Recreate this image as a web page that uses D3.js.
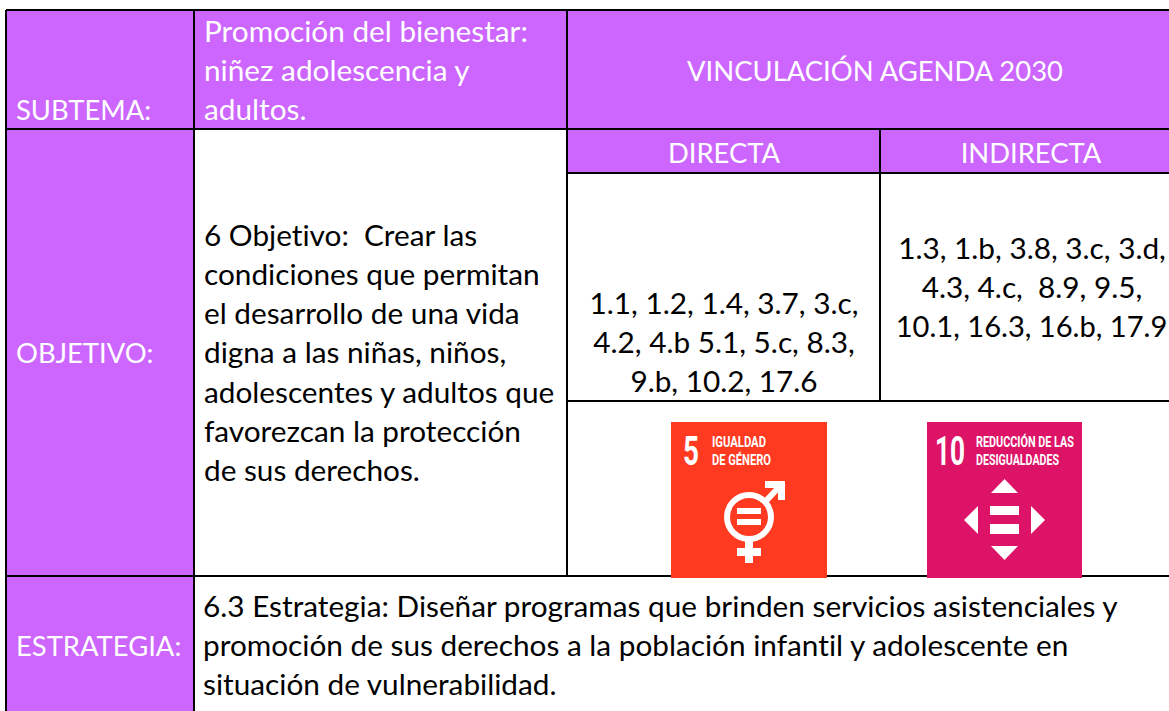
<!DOCTYPE html>
<html><head><meta charset="utf-8">
<script src="https://cdn.jsdelivr.net/npm/d3@7/dist/d3.min.js"></script>
<style>html,body{margin:0;padding:0;background:#fff}svg{display:block}text.t{font-family:Lato,Carlito,sans-serif;white-space:pre;font-variant-ligatures:none}text.i{font-family:Roboto,sans-serif;font-weight:700}</style>
</head><body><svg id="c" width="1169" height="711"></svg>
<script>
const PURPLE="#cc66ff", WHITE="#ffffff", INK="#000000";
// [text, x, baseline, anchor, colour]
const capsTexts=[
 ["SUBTEMA:",16,120,"start",WHITE],
 ["OBJETIVO:",16,363,"start",WHITE],
 ["ESTRATEGIA:",16,656,"start",WHITE],
 ["VINCULACIÓN AGENDA 2030",875,81,"middle",WHITE],
 ["DIRECTA",724,163,"middle",WHITE],
 ["INDIRECTA",1031,163,"middle",WHITE]
];
const bodyTexts=[
 ["Promoción del bienestar:",204,42,"start",WHITE],
 ["niñez adolescencia y",204,81,"start",WHITE],
 ["adultos.",204,120,"start",WHITE],
 ["6 Objetivo:  Crear las",204,246,"start",INK],
 ["condiciones que permitan",204,285,"start",INK],
 ["el desarrollo de una vida",204,324,"start",INK],
 ["digna a las niñas, niños,",204,363,"start",INK],
 ["adolescentes y adultos que",204,403,"start",INK],
 ["favorezcan la protección",204,442,"start",INK],
 ["de sus derechos.",204,481,"start",INK],
 ["1.1, 1.2, 1.4, 3.7, 3.c,",724,314,"middle",INK],
 ["4.2, 4.b 5.1, 5.c, 8.3,",724,353,"middle",INK],
 ["9.b, 10.2, 17.6",724,392,"middle",INK],
 ["1.3, 1.b, 3.8, 3.c, 3.d,",1032,259,"middle",INK],
 ["4.3, 4.c,  8.9, 9.5,",1032,298,"middle",INK],
 ["6.3 Estrategia: Diseñar programas que brinden servicios asistenciales y",203,617,"start",INK],
 ["promoción de sus derechos a la población infantil y adolescente en",203,656,"start",INK],
 ["situación de vulnerabilidad.",203,695,"start",INK]
];
const tightTexts=[["10.1, 16.3, 16.b, 17.9",1031.500,337,"middle",INK]];
// [x, y, w, h]
const fillRects=[[6,10,188,701],[194,10,975,119],[567,129,602,44]];
// [x1,y1,x2,y2]
const ruleLines=[
 [6,10,1169,10],[6,129,1169,129],[567,173,1169,173],[567,401,1169,401],[6,576,1169,576],
 [6,10,6,711],[194,10,194,711],[567,10,567,576],[880,129,880,401]
];
const svg=d3.select("#c");
svg.selectAll("rect.f").data(fillRects).join("rect").attr("class","f")
 .attr("x",d=>d[0]).attr("y",d=>d[1]).attr("width",d=>d[2]).attr("height",d=>d[3]).attr("fill",PURPLE);
svg.selectAll("line.r").data(ruleLines).join("line").attr("class","r")
 .attr("x1",d=>d[0]).attr("y1",d=>d[1]).attr("x2",d=>d[2]).attr("y2",d=>d[3])
 .attr("stroke",INK).attr("stroke-width",2);

function icon(x,y,w,h,col){return svg.append("g").attr("transform",`translate(${x},${y})`).call(g=>g.append("rect").attr("width",w).attr("height",h).attr("fill",col));}
function label(g,t,x,y,size,len){g.append("text").attr("class","i").text(t).attr("x",x).attr("y",y).attr("fill",WHITE)
 .attr("font-size",size).attr("textLength",len).attr("lengthAdjust","spacingAndGlyphs");}
function box(g,x,y,w,h){g.append("rect").attr("x",x).attr("y",y).attr("width",w).attr("height",h).attr("fill",WHITE);}
function poly(g,d){g.append("path").attr("d",d).attr("fill",WHITE);}

const sdg5=icon(671,422,156,156,"#ff3a21");
label(sdg5,"5",12,43,41,16);
label(sdg5,"IGUALDAD",41,25,15,54);
label(sdg5,"DE GÉNERO",41,43,15,59);
sdg5.append("circle").attr("cx",78).attr("cy",95).attr("r",22).attr("fill","none").attr("stroke",WHITE).attr("stroke-width",6);
box(sdg5,66,86,24,6);box(sdg5,66,97,24,6);
box(sdg5,74,118,8,23);box(sdg5,66,126,24,8);
sdg5.append("path").attr("d","M93 81L110 63").attr("stroke",WHITE).attr("stroke-width",6);
poly(sdg5,"M94 59H114V78H107V66H94Z");

const sdg10=icon(927,422,155,156,"#dd1367");
label(sdg10,"10",8,43,41,30);
label(sdg10,"REDUCCIÓN DE LAS",49,25,15,98);
label(sdg10,"DESIGUALDADES",49,43,15,83);
box(sdg10,63,84,29,9);box(sdg10,63,102,29,10);
["M64 71L77.500 57L91 71Z","M64 124H91L77.500 138Z","M51 84V112L37 98Z","M104 84V112L118 98Z"].forEach(d=>poly(sdg10,d));

function drawTexts(cls,rows,size){
 svg.selectAll("text."+cls).data(rows).join("text").attr("class","t "+cls)
  .attr("x",d=>d[1]).attr("y",d=>d[2]).attr("text-anchor",d=>d[3]).attr("fill",d=>d[4])
  .attr("font-size",size).text(d=>d[0]);
}
drawTexts("caps",capsTexts,27.4);
drawTexts("body",bodyTexts,29.75);
drawTexts("tight",tightTexts,29.1);
</script></body></html>
